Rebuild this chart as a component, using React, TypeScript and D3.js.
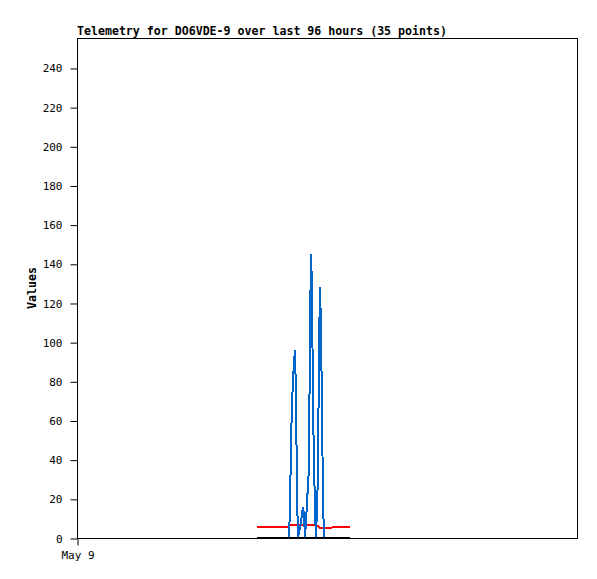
import React, { useEffect, useRef } from "react";
import * as d3 from "d3";

// hours after May 9 00:00
const hours = [
  34.56, 35.52, 36.67, 37.82, 38.98, 40.13, 40.7, 40.9, 41.09, 41.28, 41.47, 41.66,
  41.86, 42.05, 42.24, 42.43, 43.01, 43.39, 43.58, 43.78, 44.54, 44.74, 44.93, 45.12,
  45.31, 45.5, 45.7, 45.89, 46.27, 46.46, 46.66, 46.85, 47.04, 47.23, 47.42, 48.0,
  48.58, 49.34, 50.5, 51.46, 52.42,
];
const blueValues = [
  0, 0, 0, 0, 0, 0, 0, 16, 48, 69, 80, 90,
  96, 72, 24, 0, 8, 16, 12, 0, 36, 108, 145, 128,
  67, 40, 13, 0, 32, 96, 128, 107, 64, 21, 0, 0,
  0, 0, 0, 0, 0,
];
const redValues = [
  5.8, 5.8, 5.8, 5.8, 5.8, 5.8, 5.8, 6.8, 6.8, 6.8, 6.8, 6.8,
  6.8, 6.8, 6.8, 6.0, 6.8, 6.8, 6.8, 6.8, 6.8, 6.8, 6.8, 6.8,
  6.8, 6.6, 6.4, 6.2, 6.0, 5.6, 5.2, 5.0, 5.0, 5.0, 5.0, 5.0,
  5.0, 5.8, 5.8, 5.8, 5.8,
];
const blackValues = hours.map(() => 0);
const yTicks = [0, 20, 40, 60, 80, 100, 120, 140, 160, 180, 200, 220, 240];
const xTickLabels = [{ h: 0, label: "May 9" }];

const App: React.FC = () => {
  const svgRef = useRef<SVGSVGElement | null>(null);

  useEffect(() => {
    const svg = d3.select(svgRef.current);
    svg.selectAll("*").remove();

    const width = 597;
    const height = 579;
    const margin = { top: 38, right: 20, bottom: 41, left: 77 };
    const font = "'DejaVu Sans Mono', monospace";

    const x = d3
      .scaleLinear()
      .domain([0, 96])
      .range([margin.left, width - margin.right]);
    const y = d3
      .scaleLinear()
      .domain([0, 255.3])
      .range([height - margin.bottom, margin.top]);

    svg.append("rect").attr("width", width).attr("height", height).attr("fill", "#fff");

    // frame
    svg
      .append("rect")
      .attr("x", margin.left + 0.5)
      .attr("y", margin.top + 0.5)
      .attr("width", width - margin.right - margin.left)
      .attr("height", height - margin.bottom - margin.top)
      .attr("fill", "none")
      .attr("stroke", "#000");

    // y axis
    const yAxis = svg
      .append("g")
      .attr("transform", `translate(${margin.left + 0.5},0.5)`)
      .call(d3.axisLeft(y).tickValues(yTicks).tickSize(7).tickSizeOuter(0).tickPadding(8));
    yAxis.select(".domain").remove();
    yAxis.selectAll("line").attr("stroke", "#000");
    yAxis
      .selectAll("text")
      .attr("font-family", font)
      .attr("font-size", 11)
      .attr("fill", "#000");

    // x axis
    const xAxis = svg
      .append("g")
      .attr("transform", `translate(0.5,${height - margin.bottom + 0.5})`)
      .call(
        d3
          .axisBottom(x)
          .tickValues(xTickLabels.map((d) => d.h))
          .tickFormat((_, i) => xTickLabels[i].label)
          .tickSize(7)
          .tickSizeOuter(0)
          .tickPadding(6)
      );
    xAxis.select(".domain").remove();
    xAxis.selectAll("line").attr("stroke", "#000");
    xAxis
      .selectAll("text")
      .attr("font-family", font)
      .attr("font-size", 11)
      .attr("fill", "#000");

    // title
    svg
      .append("text")
      .attr("x", margin.left)
      .attr("y", 35)
      .attr("font-family", font)
      .attr("font-size", 11.6)
      .attr("font-weight", "bold")
      .text("Telemetry for DO6VDE-9 over last 96 hours (35 points)");

    // y label
    svg
      .append("text")
      .attr("transform", `translate(36,${(margin.top + height - margin.bottom) / 2}) rotate(-90)`)
      .attr("text-anchor", "middle")
      .attr("font-family", font)
      .attr("font-size", 11.6)
      .attr("font-weight", "bold")
      .text("Values");

    const series = [
      { values: redValues, color: "#ff0000", w: 2 },
      { values: blueValues, color: "#0066cc", w: 2 },
      { values: blackValues, color: "#000000", w: 2 },
    ];

    series.forEach((s) => {
      const line = d3
        .line<number>()
        .x((_, i) => x(hours[i]))
        .y((d) => y(d));
      svg
        .append("path")
        .datum(s.values)
        .attr("d", line)
        .attr("fill", "none")
        .attr("stroke", s.color)
        .attr("stroke-width", s.w)
        .attr("stroke-linejoin", "bevel")
        .attr("shape-rendering", "crispEdges");
    });
  }, []);

  return <svg ref={svgRef} width={597} height={579} style={{ display: "block", margin: "-8px" }}></svg>;
};

export default App;
